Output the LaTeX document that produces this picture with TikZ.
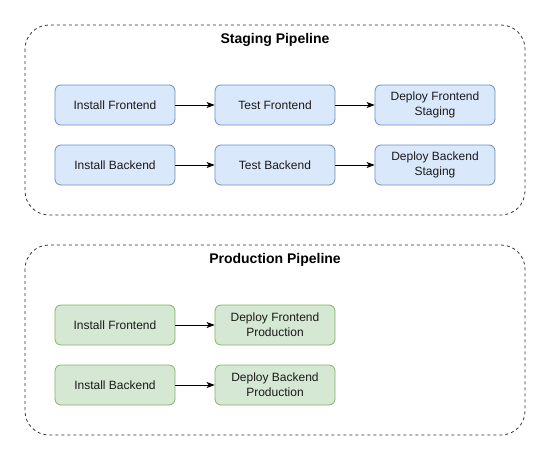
\documentclass[tikz,border=0pt]{standalone}
\usepackage{fontspec}
\setmainfont{Liberation Sans}
\usetikzlibrary{arrows.meta}
\definecolor{bluefill}{HTML}{DAE8FC}
\definecolor{bluedraw}{HTML}{6C8EBF}
\definecolor{greenfill}{HTML}{D5E8D4}
\definecolor{greendraw}{HTML}{82B366}
\definecolor{txt}{HTML}{1A1A1A}
\tikzset{
  container/.style={draw=black!80, dash pattern=on 3pt off 3pt, line width=0.8pt, rounded corners=24pt},
  title/.style={font=\fontsize{14}{16}\selectfont\bfseries, text=black},
  stagebox/.style={draw=bluedraw, fill=bluefill, line width=0.8pt, rounded corners=6pt,
    minimum width=120pt, minimum height=40pt, inner sep=0pt, align=center,
    font=\fontsize{12}{15}\selectfont, text=txt},
  prodbox/.style={stagebox, draw=greendraw, fill=greenfill},
  link/.style={-{Stealth[length=8pt,width=6pt,inset=2pt]}, line width=0.8pt, black}
}
\begin{document}
\begin{tikzpicture}[x=1pt,y=-1pt]
\useasboundingbox (0,0) rectangle (551,461);
% containers
\draw[container] (25,25) rectangle (525,215);
\draw[container] (25,245) rectangle (525,435);
\node[title] (t1) at (275,40) {Staging Pipeline};
\node[title] (t2) at (275,260) {Production Pipeline};
% staging
\node[stagebox] (sif) at (115,105) {Install Frontend};
\node[stagebox] (stf) at (275,105) {Test Frontend};
\node[stagebox] (sdf) at (435,105) {Deploy Frontend\\Staging};
\node[stagebox] (sib) at (115,165) {Install Backend};
\node[stagebox] (stb) at (275,165) {Test Backend};
\node[stagebox] (sdb) at (435,165) {Deploy Backend\\Staging};
\draw[link] (sif) -- (stf);
\draw[link] (stf) -- (sdf);
\draw[link] (sib) -- (stb);
\draw[link] (stb) -- (sdb);
% production
\node[prodbox] (pif) at (115,325) {Install Frontend};
\node[prodbox] (pdf) at (275,325) {Deploy Frontend\\Production};
\node[prodbox] (pib) at (115,385) {Install Backend};
\node[prodbox] (pdb) at (275,385) {Deploy Backend\\Production};
\draw[link] (pif) -- (pdf);
\draw[link] (pib) -- (pdb);
\end{tikzpicture}
\end{document}
